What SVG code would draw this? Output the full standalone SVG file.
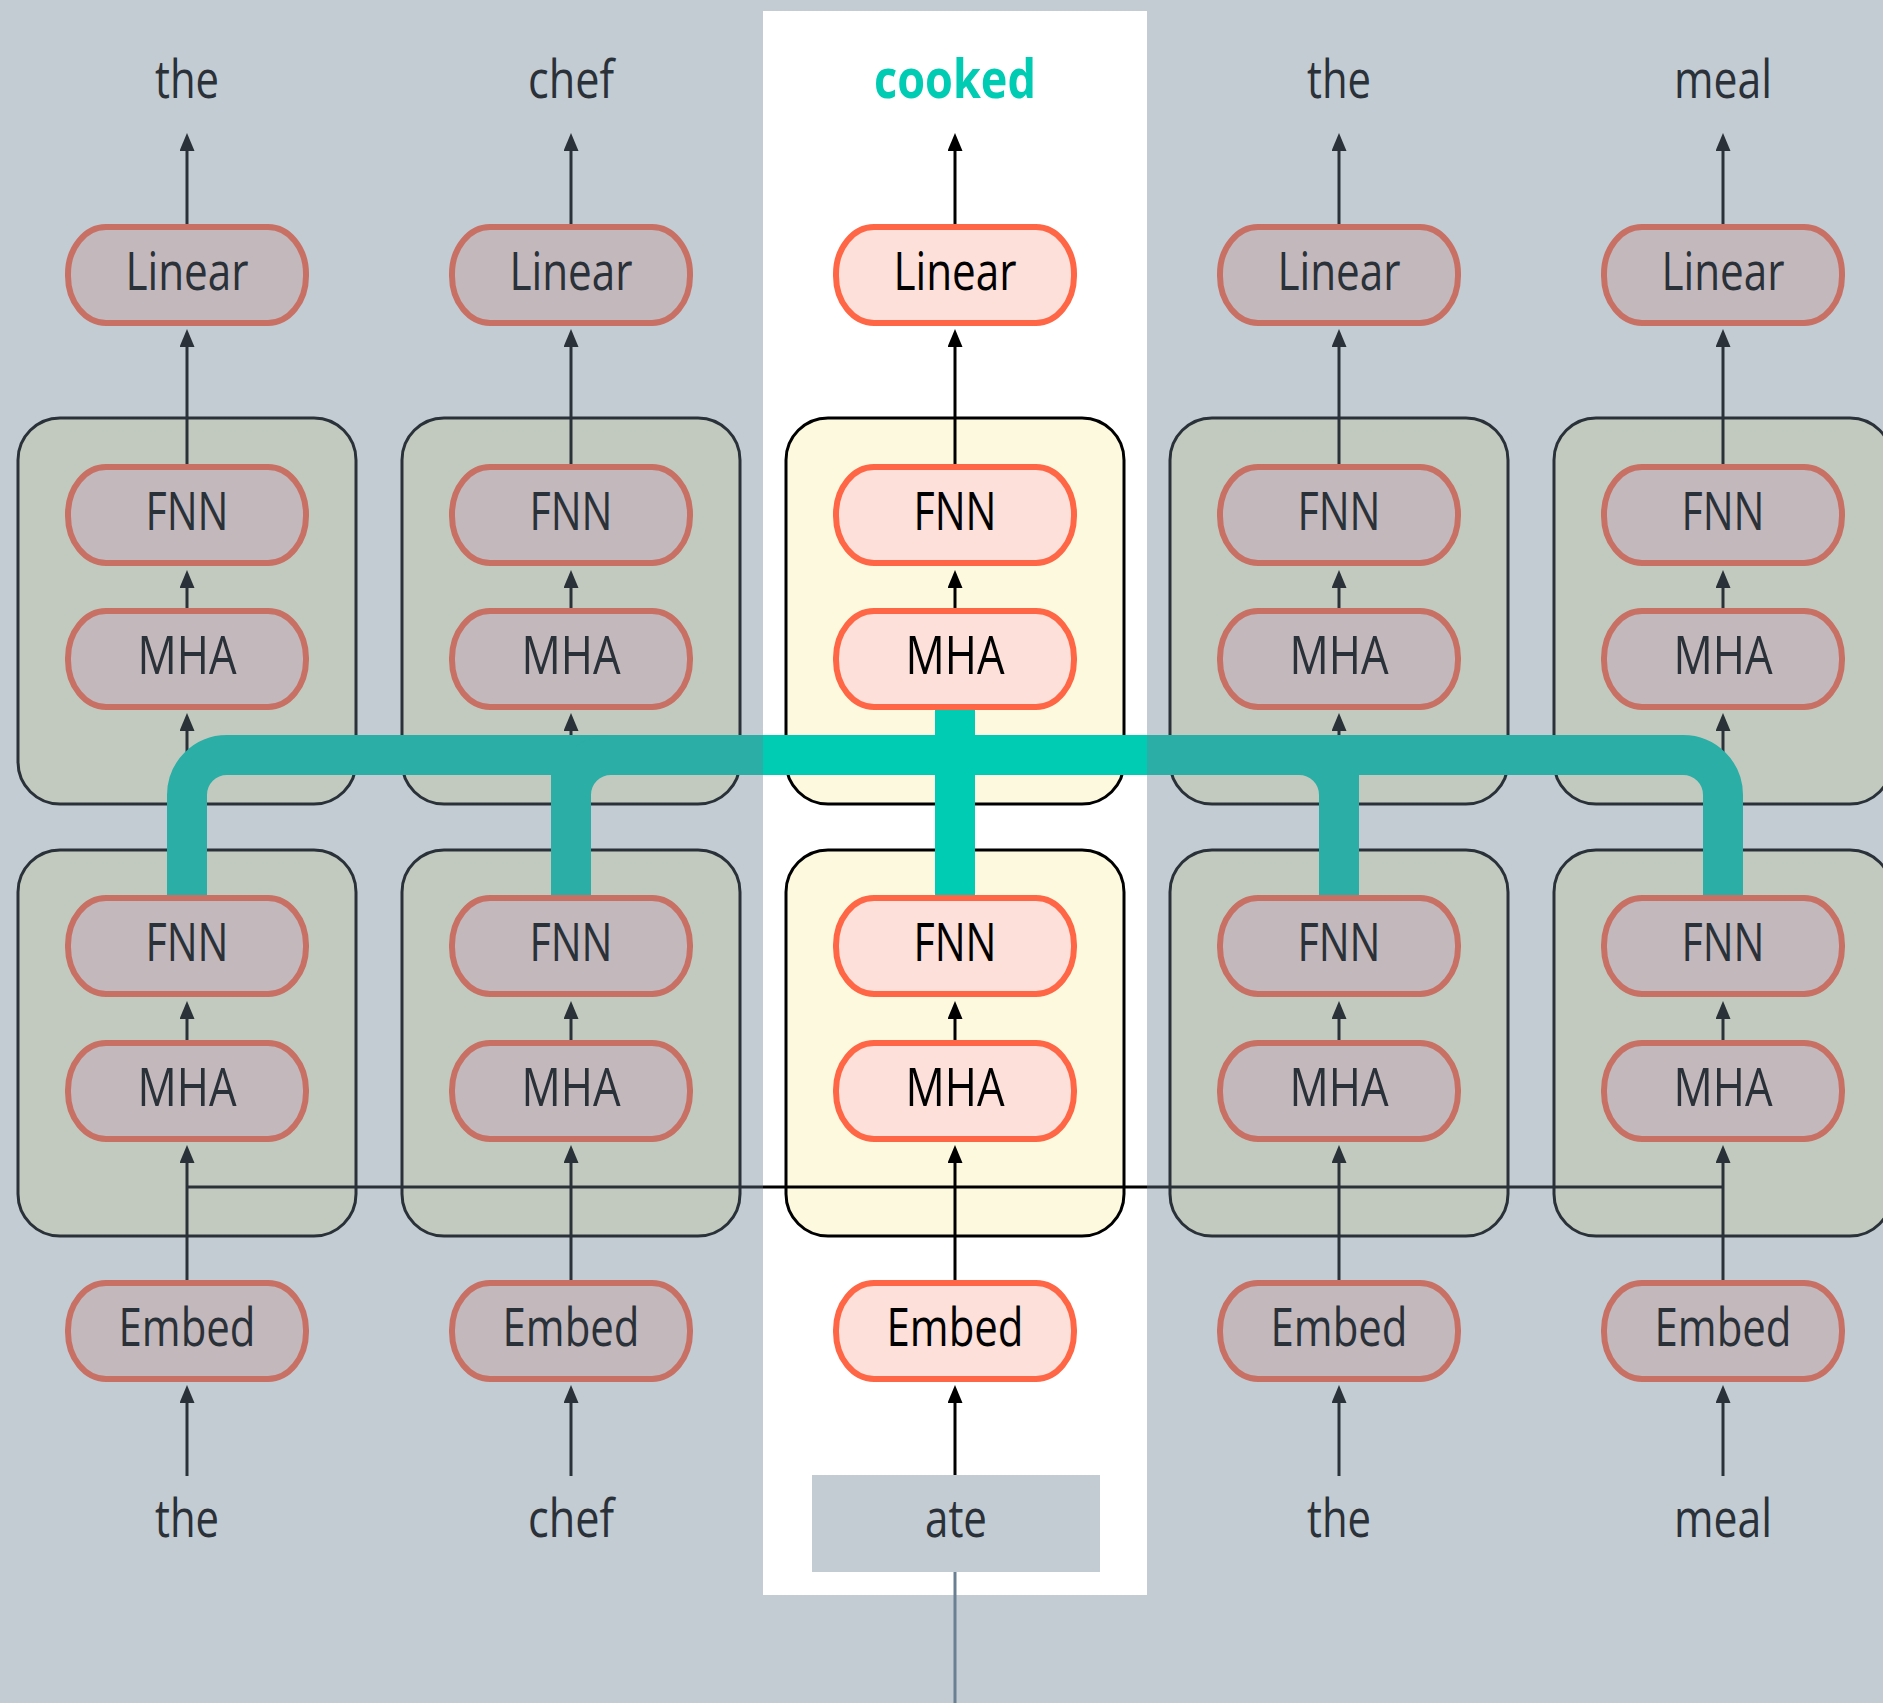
<svg xmlns="http://www.w3.org/2000/svg" width="1883" height="1703" viewBox="0 0 1883 1703">
  <style>
    .bg{fill:#c3cbd3}
    .lbl{font-family:"Open Sans","Noto Sans",sans-serif;font-size:53px;text-anchor:middle}
    .pd rect{fill:#c3b8bc;stroke:#c87064;stroke-width:6}
    .pf rect{fill:#fde0d9;stroke:#ff6645;stroke-width:6}
    .pd text,.wd text{fill:#2a3138}
    .pf text{fill:#000}
    .wf text{fill:#00ccb4;font-weight:bold}
    .bd{fill:#c2cabf;stroke:#2a3138;stroke-width:3}
    .bf{fill:#fdf9de;stroke:#000;stroke-width:3}
    .ad path{stroke:#2a3138;stroke-width:3;fill:none;marker-end:url(#head-d)}
    .af path{stroke:#000;stroke-width:3;fill:none;marker-end:url(#head-f)}
    .ld{stroke:#2a3138;stroke-width:3;fill:none}
    .lf{stroke:#000;stroke-width:3;fill:none}
    .td{stroke:#2aaea6;stroke-width:40;fill:none}
    .tf{stroke:#00ccb4;stroke-width:40;fill:none}
  </style>
  <defs>
    <marker id="head-d" viewBox="0 0 18 15" refX="10" refY="7.5" markerWidth="18" markerHeight="15" markerUnits="userSpaceOnUse" orient="auto">
      <path d="M0,0 L18,7.5 L0,15 Z" fill="#2a3138"/>
    </marker>
    <marker id="head-f" viewBox="0 0 18 15" refX="10" refY="7.5" markerWidth="18" markerHeight="15" markerUnits="userSpaceOnUse" orient="auto">
      <path d="M0,0 L18,7.5 L0,15 Z" fill="#000"/>
    </marker>
  </defs>

  <!-- backdrop and highlighted column -->
  <rect class="bg" x="0" y="0" width="1883" height="1703"/>
  <rect id="focus-column" x="763" y="11" width="384" height="1584" fill="#fff"/>

  <!-- transformer layer blocks -->
  <g id="blocks">
    <rect id="c1-layer2" class="bd" x="18" y="418" width="338" height="386" rx="42"/>
    <rect id="c2-layer2" class="bd" x="402" y="418" width="338" height="386" rx="42"/>
    <rect id="c3-layer2" class="bf" x="786" y="418" width="338" height="386" rx="42"/>
    <rect id="c4-layer2" class="bd" x="1170" y="418" width="338" height="386" rx="42"/>
    <rect id="c5-layer2" class="bd" x="1554" y="418" width="338" height="386" rx="42"/>
    <rect id="c1-layer1" class="bd" x="18" y="850" width="338" height="386" rx="42"/>
    <rect id="c2-layer1" class="bd" x="402" y="850" width="338" height="386" rx="42"/>
    <rect id="c3-layer1" class="bf" x="786" y="850" width="338" height="386" rx="42"/>
    <rect id="c4-layer1" class="bd" x="1170" y="850" width="338" height="386" rx="42"/>
    <rect id="c5-layer1" class="bd" x="1554" y="850" width="338" height="386" rx="42"/>
  </g>

  <!-- arrows, attention bus and residual links -->
  <g id="connectors">
    <!-- shared attention line in the first layer -->
    <path class="ld" d="M187,1187 H763"/>
    <path class="lf" d="M763,1187 H1147"/>
    <path class="ld" d="M1147,1187 H1723"/>

    <!-- per-column arrows -->
    <g class="ad">
      <path d="M187,1476 V1393"/><path d="M187,1283 V1153"/><path d="M187,1040 V1009"/><path d="M187,896 V721"/><path d="M187,608 V578"/><path d="M187,464 V337"/><path d="M187,224 V141"/>
    </g>
    <g class="ad">
      <path d="M571,1476 V1393"/><path d="M571,1283 V1153"/><path d="M571,1040 V1009"/><path d="M571,896 V721"/><path d="M571,608 V578"/><path d="M571,464 V337"/><path d="M571,224 V141"/>
    </g>
    <g class="af">
      <path d="M955,1476 V1393"/><path d="M955,1283 V1153"/><path d="M955,1040 V1009"/><path d="M955,896 V721"/><path d="M955,608 V578"/><path d="M955,464 V337"/><path d="M955,224 V141"/>
    </g>
    <g class="ad">
      <path d="M1339,1476 V1393"/><path d="M1339,1283 V1153"/><path d="M1339,1040 V1009"/><path d="M1339,896 V721"/><path d="M1339,608 V578"/><path d="M1339,464 V337"/><path d="M1339,224 V141"/>
    </g>
    <g class="ad">
      <path d="M1723,1476 V1393"/><path d="M1723,1283 V1153"/><path d="M1723,1040 V1009"/><path d="M1723,896 V721"/><path d="M1723,608 V578"/><path d="M1723,464 V337"/><path d="M1723,224 V141"/>
    </g>

    <!-- line leaving the input box -->
    <path d="M955,1572 V1703" stroke="#6a7f91" stroke-width="3" fill="none"/>

    <!-- teal bus feeding the second-layer attention of the focus column -->
    <path class="td" d="M187,896 V795 A40,40 0 0 1 227,755 H763"/>
    <path class="td" d="M571,896 V795 A40,40 0 0 1 611,755 H763 M571,896 V755"/>
    <path class="td" d="M1339,896 V795 A40,40 0 0 0 1299,755 H1147 M1339,896 V755"/>
    <path class="td" d="M1723,896 V795 A40,40 0 0 0 1683,755 H1147"/>
    <path class="tf" d="M763,755 H1147 M955,710 V896"/>
  </g>

  <!-- column 1 -->
  <g id="c1-linear" class="pd"><rect x="68" y="227" width="238" height="96" rx="38" ry="47"/><text class="lbl" x="187" y="290" textLength="123" lengthAdjust="spacingAndGlyphs">Linear</text></g>
  <g id="c1-fnn2" class="pd"><rect x="68" y="467" width="238" height="96" rx="38" ry="47"/><text class="lbl" x="187" y="530" textLength="83" lengthAdjust="spacingAndGlyphs">FNN</text></g>
  <g id="c1-mha2" class="pd"><rect x="68" y="611" width="238" height="96" rx="38" ry="47"/><text class="lbl" x="187" y="674" textLength="99" lengthAdjust="spacingAndGlyphs">MHA</text></g>
  <g id="c1-fnn1" class="pd"><rect x="68" y="898" width="238" height="96" rx="38" ry="47"/><text class="lbl" x="187" y="961" textLength="83" lengthAdjust="spacingAndGlyphs">FNN</text></g>
  <g id="c1-mha1" class="pd"><rect x="68" y="1043" width="238" height="96" rx="38" ry="47"/><text class="lbl" x="187" y="1106" textLength="99" lengthAdjust="spacingAndGlyphs">MHA</text></g>
  <g id="c1-embed" class="pd"><rect x="68" y="1283" width="238" height="96" rx="38" ry="47"/><text class="lbl" x="187" y="1346" textLength="137" lengthAdjust="spacingAndGlyphs">Embed</text></g>
  <g id="c1-out" class="wd"><text class="lbl" x="187" y="98" textLength="64" lengthAdjust="spacingAndGlyphs">the</text></g>
  <g id="c1-in" class="wd"><text class="lbl" x="187" y="1537" textLength="64" lengthAdjust="spacingAndGlyphs">the</text></g>

  <!-- column 2 -->
  <g id="c2-linear" class="pd"><rect x="452" y="227" width="238" height="96" rx="38" ry="47"/><text class="lbl" x="571" y="290" textLength="123" lengthAdjust="spacingAndGlyphs">Linear</text></g>
  <g id="c2-fnn2" class="pd"><rect x="452" y="467" width="238" height="96" rx="38" ry="47"/><text class="lbl" x="571" y="530" textLength="83" lengthAdjust="spacingAndGlyphs">FNN</text></g>
  <g id="c2-mha2" class="pd"><rect x="452" y="611" width="238" height="96" rx="38" ry="47"/><text class="lbl" x="571" y="674" textLength="99" lengthAdjust="spacingAndGlyphs">MHA</text></g>
  <g id="c2-fnn1" class="pd"><rect x="452" y="898" width="238" height="96" rx="38" ry="47"/><text class="lbl" x="571" y="961" textLength="83" lengthAdjust="spacingAndGlyphs">FNN</text></g>
  <g id="c2-mha1" class="pd"><rect x="452" y="1043" width="238" height="96" rx="38" ry="47"/><text class="lbl" x="571" y="1106" textLength="99" lengthAdjust="spacingAndGlyphs">MHA</text></g>
  <g id="c2-embed" class="pd"><rect x="452" y="1283" width="238" height="96" rx="38" ry="47"/><text class="lbl" x="571" y="1346" textLength="137" lengthAdjust="spacingAndGlyphs">Embed</text></g>
  <g id="c2-out" class="wd"><text class="lbl" x="571" y="98" textLength="86" lengthAdjust="spacingAndGlyphs">chef</text></g>
  <g id="c2-in" class="wd"><text class="lbl" x="571" y="1537" textLength="86" lengthAdjust="spacingAndGlyphs">chef</text></g>

  <!-- column 3 (focus) -->
  <g id="c3-linear" class="pf"><rect x="836" y="227" width="238" height="96" rx="38" ry="47"/><text class="lbl" x="955" y="290" textLength="123" lengthAdjust="spacingAndGlyphs">Linear</text></g>
  <g id="c3-fnn2" class="pf"><rect x="836" y="467" width="238" height="96" rx="38" ry="47"/><text class="lbl" x="955" y="530" textLength="83" lengthAdjust="spacingAndGlyphs">FNN</text></g>
  <g id="c3-mha2" class="pf"><rect x="836" y="611" width="238" height="96" rx="38" ry="47"/><text class="lbl" x="955" y="674" textLength="99" lengthAdjust="spacingAndGlyphs">MHA</text></g>
  <g id="c3-fnn1" class="pf"><rect x="836" y="898" width="238" height="96" rx="38" ry="47"/><text class="lbl" x="955" y="961" textLength="83" lengthAdjust="spacingAndGlyphs">FNN</text></g>
  <g id="c3-mha1" class="pf"><rect x="836" y="1043" width="238" height="96" rx="38" ry="47"/><text class="lbl" x="955" y="1106" textLength="99" lengthAdjust="spacingAndGlyphs">MHA</text></g>
  <g id="c3-embed" class="pf"><rect x="836" y="1283" width="238" height="96" rx="38" ry="47"/><text class="lbl" x="955" y="1346" textLength="137" lengthAdjust="spacingAndGlyphs">Embed</text></g>
  <g id="c3-out" class="wf"><text class="lbl" x="955" y="98" textLength="162" lengthAdjust="spacingAndGlyphs">cooked</text></g>
  <g id="c3-in" class="wd"><rect x="812" y="1475" width="288" height="97" fill="#c3cbd3"/><text class="lbl" x="956" y="1537" textLength="62" lengthAdjust="spacingAndGlyphs">ate</text></g>

  <!-- column 4 -->
  <g id="c4-linear" class="pd"><rect x="1220" y="227" width="238" height="96" rx="38" ry="47"/><text class="lbl" x="1339" y="290" textLength="123" lengthAdjust="spacingAndGlyphs">Linear</text></g>
  <g id="c4-fnn2" class="pd"><rect x="1220" y="467" width="238" height="96" rx="38" ry="47"/><text class="lbl" x="1339" y="530" textLength="83" lengthAdjust="spacingAndGlyphs">FNN</text></g>
  <g id="c4-mha2" class="pd"><rect x="1220" y="611" width="238" height="96" rx="38" ry="47"/><text class="lbl" x="1339" y="674" textLength="99" lengthAdjust="spacingAndGlyphs">MHA</text></g>
  <g id="c4-fnn1" class="pd"><rect x="1220" y="898" width="238" height="96" rx="38" ry="47"/><text class="lbl" x="1339" y="961" textLength="83" lengthAdjust="spacingAndGlyphs">FNN</text></g>
  <g id="c4-mha1" class="pd"><rect x="1220" y="1043" width="238" height="96" rx="38" ry="47"/><text class="lbl" x="1339" y="1106" textLength="99" lengthAdjust="spacingAndGlyphs">MHA</text></g>
  <g id="c4-embed" class="pd"><rect x="1220" y="1283" width="238" height="96" rx="38" ry="47"/><text class="lbl" x="1339" y="1346" textLength="137" lengthAdjust="spacingAndGlyphs">Embed</text></g>
  <g id="c4-out" class="wd"><text class="lbl" x="1339" y="98" textLength="64" lengthAdjust="spacingAndGlyphs">the</text></g>
  <g id="c4-in" class="wd"><text class="lbl" x="1339" y="1537" textLength="64" lengthAdjust="spacingAndGlyphs">the</text></g>

  <!-- column 5 -->
  <g id="c5-linear" class="pd"><rect x="1604" y="227" width="238" height="96" rx="38" ry="47"/><text class="lbl" x="1723" y="290" textLength="123" lengthAdjust="spacingAndGlyphs">Linear</text></g>
  <g id="c5-fnn2" class="pd"><rect x="1604" y="467" width="238" height="96" rx="38" ry="47"/><text class="lbl" x="1723" y="530" textLength="83" lengthAdjust="spacingAndGlyphs">FNN</text></g>
  <g id="c5-mha2" class="pd"><rect x="1604" y="611" width="238" height="96" rx="38" ry="47"/><text class="lbl" x="1723" y="674" textLength="99" lengthAdjust="spacingAndGlyphs">MHA</text></g>
  <g id="c5-fnn1" class="pd"><rect x="1604" y="898" width="238" height="96" rx="38" ry="47"/><text class="lbl" x="1723" y="961" textLength="83" lengthAdjust="spacingAndGlyphs">FNN</text></g>
  <g id="c5-mha1" class="pd"><rect x="1604" y="1043" width="238" height="96" rx="38" ry="47"/><text class="lbl" x="1723" y="1106" textLength="99" lengthAdjust="spacingAndGlyphs">MHA</text></g>
  <g id="c5-embed" class="pd"><rect x="1604" y="1283" width="238" height="96" rx="38" ry="47"/><text class="lbl" x="1723" y="1346" textLength="137" lengthAdjust="spacingAndGlyphs">Embed</text></g>
  <g id="c5-out" class="wd"><text class="lbl" x="1723" y="98" textLength="98" lengthAdjust="spacingAndGlyphs">meal</text></g>
  <g id="c5-in" class="wd"><text class="lbl" x="1723" y="1537" textLength="98" lengthAdjust="spacingAndGlyphs">meal</text></g>
</svg>
